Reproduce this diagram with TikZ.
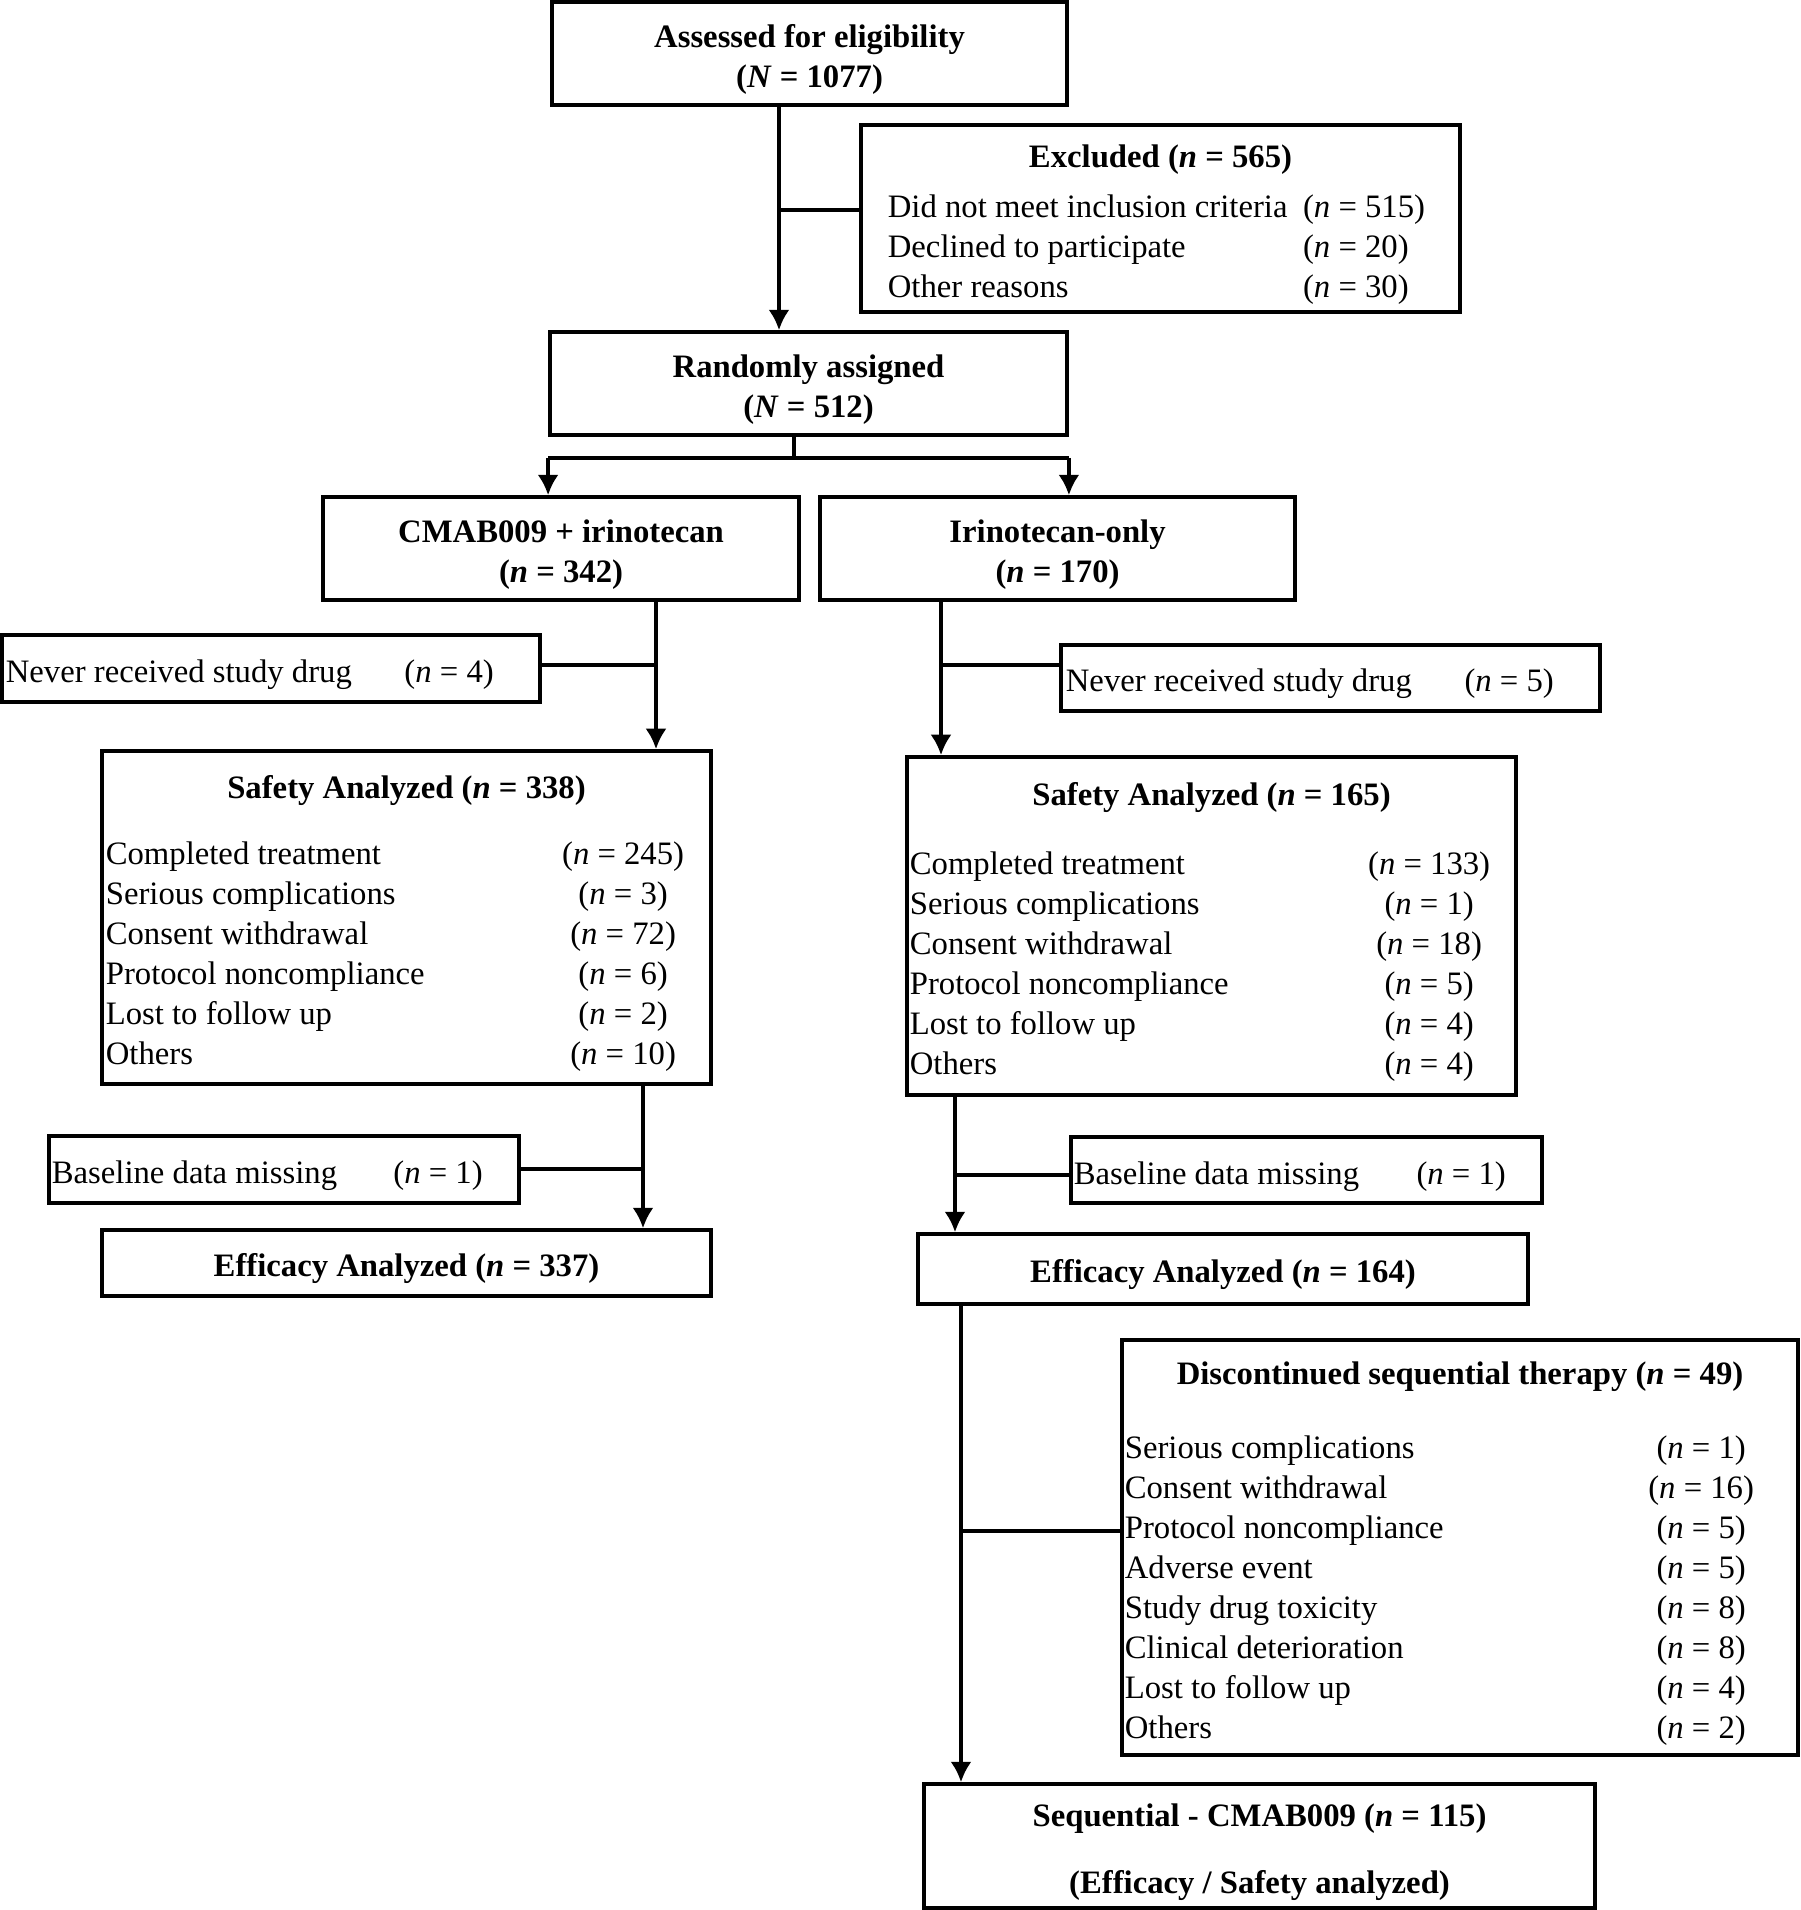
\documentclass[tikz,border=0pt]{standalone}
\usepackage{fontspec}
\setmainfont{Liberation Serif}
\usepackage{array}
\usetikzlibrary{arrows.meta}
% label column (left) and count column (centred), fixed widths
\newcolumntype{L}[1]{>{\hbox to #1\bgroup}l<{\hss\egroup}}
\newcolumntype{C}[1]{>{\hbox to #1\bgroup\hss}l<{\hss\egroup}}
% push box text a little down
\newcommand\lowered[1]{\raisebox{0pt}[\dimexpr\height+3.4pt\relax][\depth]{#1}}

\begin{document}
\begin{tikzpicture}[x=0.01cm,y=-0.01cm,font=\fontsize{9.3}{11.4}\selectfont,
  box/.style={draw,line width=1pt,inner sep=0pt,align=center},
  titlebox/.style={box,font=\fontsize{9.3}{11.4}\selectfont\bfseries},
  arrow/.style={line width=1.1pt,-{Latex[length=5.8pt,width=6pt]}},
  bar/.style={line width=1.3pt}]
\useasboundingbox (0,0) rectangle (1800,1910);
% enrolment
\node[titlebox,minimum width=5.15cm,minimum height=1.03cm] (assess) at (809.5,53.5) {\lowered{\begin{tabular}{@{}c@{}}Assessed for eligibility\\(\textit{N} = 1077)\end{tabular}}};
\node[box,minimum width=5.99cm,minimum height=1.87cm] (excl) at (1160.5,218.5) {\lowered{\begin{tabular}{@{}L{4.15cm}@{}L{1.30cm}@{}}
  \multicolumn{2}{@{}c@{}}{\bfseries Excluded (\textit{n} = 565)}\\[3pt]
  Did not meet inclusion criteria & (\textit{n} = 515)\\
  Declined to participate & (\textit{n} = 20)\\
  Other reasons & (\textit{n} = 30)
\end{tabular}}};
\node[titlebox,minimum width=5.17cm,minimum height=1.03cm] (rand) at (808.5,383.5) {\lowered{\begin{tabular}{@{}c@{}}Randomly assigned\\(\textit{N} = 512)\end{tabular}}};
% arms
\node[titlebox,minimum width=4.76cm,minimum height=1.03cm] (cmab) at (561,548.5) {\lowered{\begin{tabular}{@{}c@{}}CMAB009 + irinotecan\\(\textit{n} = 342)\end{tabular}}};
\node[titlebox,minimum width=4.75cm,minimum height=1.03cm] (irin) at (1057.5,548.5) {\lowered{\begin{tabular}{@{}c@{}}Irinotecan-only\\(\textit{n} = 170)\end{tabular}}};
% left arm
\node[box,minimum width=5.38cm,minimum height=0.67cm] (neverL) at (271,668.5) {\lowered{\begin{tabular}{@{}L{3.56cm}@{}C{1.74cm}@{}}
  Never received study drug & (\textit{n} = 4)
\end{tabular}}};
\node[box,minimum width=6.09cm,minimum height=3.33cm] (safeL) at (406.5,917.5) {\lowered{\begin{tabular}{@{}L{4.33cm}@{}C{1.68cm}@{}}
  \multicolumn{2}{@{}c@{}}{\bfseries Safety Analyzed (\textit{n} = 338)}\\[7.4pt]
  Completed treatment & (\textit{n} = 245)\\
  Serious complications & (\textit{n} = 3)\\
  Consent withdrawal & (\textit{n} = 72)\\
  Protocol noncompliance & (\textit{n} = 6)\\
  Lost to follow up & (\textit{n} = 2)\\
  Others & (\textit{n} = 10)
\end{tabular}}};
\node[box,minimum width=4.70cm,minimum height=0.67cm] (baseL) at (284,1169.5) {\lowered{\begin{tabular}{@{}L{3.08cm}@{}C{1.56cm}@{}}
  Baseline data missing & (\textit{n} = 1)
\end{tabular}}};
\node[titlebox,minimum width=6.09cm,minimum height=0.66cm] (effL) at (406.5,1263) {\lowered{Efficacy Analyzed (\textit{n} = 337)}};
% right arm
\node[box,minimum width=5.39cm,minimum height=0.66cm] (neverR) at (1330.5,678) {\lowered{\begin{tabular}{@{}L{3.57cm}@{}C{1.72cm}@{}}
  Never received study drug & (\textit{n} = 5)
\end{tabular}}};
\node[box,minimum width=6.09cm,minimum height=3.38cm] (safeR) at (1211.5,926) {\lowered{\begin{tabular}{@{}L{4.35cm}@{}C{1.68cm}@{}}
  \multicolumn{2}{@{}c@{}}{\bfseries Safety Analyzed (\textit{n} = 165)}\\[8.3pt]
  Completed treatment & (\textit{n} = 133)\\
  Serious complications & (\textit{n} = 1)\\
  Consent withdrawal & (\textit{n} = 18)\\
  Protocol noncompliance & (\textit{n} = 5)\\
  Lost to follow up & (\textit{n} = 4)\\
  Others & (\textit{n} = 4)
\end{tabular}}};
\node[box,minimum width=4.71cm,minimum height=0.66cm] (baseR) at (1306.5,1170) {\lowered{\begin{tabular}{@{}L{3.09cm}@{}C{1.56cm}@{}}
  Baseline data missing & (\textit{n} = 1)
\end{tabular}}};
\node[titlebox,minimum width=6.10cm,minimum height=0.70cm] (effR) at (1223,1269) {\lowered{Efficacy Analyzed (\textit{n} = 164)}};
\node[box,minimum width=6.76cm,minimum height=4.15cm] (disc) at (1460,1547.5) {\lowered{\begin{tabular}{@{}L{4.82cm}@{}C{1.88cm}@{}}
  \multicolumn{2}{@{}c@{}}{\bfseries Discontinued sequential therapy (\textit{n} = 49)}\\[9.7pt]
  Serious complications & (\textit{n} = 1)\\
  Consent withdrawal & (\textit{n} = 16)\\
  Protocol noncompliance & (\textit{n} = 5)\\
  Adverse event & (\textit{n} = 5)\\
  Study drug toxicity & (\textit{n} = 8)\\
  Clinical deterioration & (\textit{n} = 8)\\
  Lost to follow up & (\textit{n} = 4)\\
  Others & (\textit{n} = 2)
\end{tabular}}};
\node[titlebox,minimum width=6.71cm,minimum height=1.24cm] (seq) at (1259.5,1846) {\lowered{\begin{tabular}{@{}c@{}}Sequential - CMAB009 (\textit{n} = 115)\\[7.7pt](Efficacy / Safety analyzed)\end{tabular}}};
% junctions
\coordinate (jA) at (779,210);
\coordinate (split) at (794,458);
\coordinate (jL1) at (656,665);
\coordinate (jR1) at (941,665);
\coordinate (jL2) at (643,1169);
\coordinate (jR2) at (955,1175);
\coordinate (jR3) at (961,1531);
% connectors
\draw[arrow] (assess.south -| jA) -- (rand.north -| jA);
\draw[bar] (jA) -- (jA -| excl.west);
\draw[bar] (rand.south -| split) -- (split);
\draw[bar] (split -| rand.west) -- (split -| rand.east);
\draw[arrow] (split -| rand.west) -- (cmab.north -| rand.west);
\draw[arrow] (split -| rand.east) -- (irin.north -| rand.east);
\draw[arrow] (cmab.south -| jL1) -- (safeL.north -| jL1);
\draw[bar] (jL1 -| neverL.east) -- (jL1);
\draw[arrow] (safeL.south -| jL2) -- (effL.north -| jL2);
\draw[bar] (jL2 -| baseL.east) -- (jL2);
\draw[arrow] (irin.south -| jR1) -- (safeR.north -| jR1);
\draw[bar] (jR1) -- (jR1 -| neverR.west);
\draw[arrow] (safeR.south -| jR2) -- (effR.north -| jR2);
\draw[bar] (jR2) -- (jR2 -| baseR.west);
\draw[arrow] (effR.south -| jR3) -- (seq.north -| jR3);
\draw[bar] (jR3) -- (jR3 -| disc.west);
\end{tikzpicture}
\end{document}
